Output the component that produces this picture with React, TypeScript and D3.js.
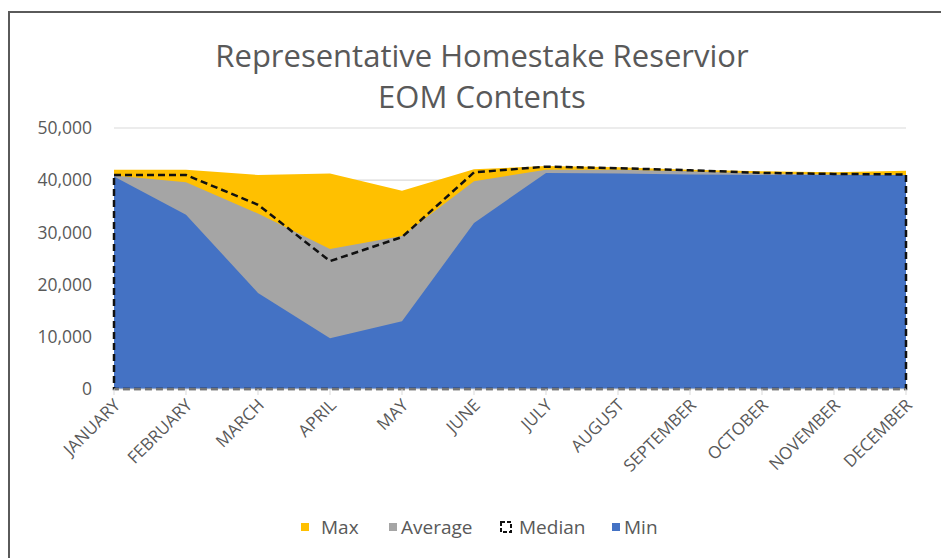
import { useRef, useEffect } from 'react';
import * as d3 from 'd3';

const months = ['JANUARY', 'FEBRUARY', 'MARCH', 'APRIL', 'MAY', 'JUNE', 'JULY', 'AUGUST', 'SEPTEMBER', 'OCTOBER', 'NOVEMBER', 'DECEMBER'];
const maxVals = [42000, 42000, 41000, 41300, 38000, 42100, 42700, 42500, 42000, 41700, 41500, 41800];
const avgVals = [40900, 39600, 33600, 26800, 29300, 39800, 42000, 42000, 41700, 41300, 41100, 41000];
const medianVals = [41000, 41000, 35300, 24500, 29100, 41500, 42600, 42300, 41900, 41400, 41200, 41100];
const minVals = [40700, 33400, 18400, 9700, 13000, 31800, 41400, 41300, 41100, 41000, 41000, 41000];
const yTicks = [0, 10000, 20000, 30000, 40000, 50000];

const App = () => {
  const svgRef = useRef<SVGSVGElement>(null);

  useEffect(() => {
    const w = 941;
    const h = 558;
    const svg = d3.select(svgRef.current)
      .attr('width', w)
      .attr('height', h)
      .style('background', '#fff');
    svg.selectAll('*').remove();
    const font = 'Open Sans, sans-serif';

    // frame (only top and left visible)
    svg.append('path')
      .attr('d', `M9,${h + 5} L9,12 L${w + 5},12`)
      .attr('fill', 'none')
      .attr('stroke', '#5a5a5a')
      .attr('stroke-width', 2);

    svg.append('text')
      .attr('x', 482).attr('y', 67)
      .attr('text-anchor', 'middle')
      .attr('font-family', font).attr('font-size', 31)
      .attr('fill', '#595959')
      .text('Representative Homestake Reservior');
    svg.append('text')
      .attr('x', 482).attr('y', 108)
      .attr('text-anchor', 'middle')
      .attr('font-family', font).attr('font-size', 31)
      .attr('fill', '#595959')
      .text('EOM Contents');

    const x = d3.scalePoint().domain(months).range([114, 906]);
    const y = d3.scaleLinear().domain([0, 50000]).range([389, 128]);

    const grid = svg.append('g');
    grid.selectAll('line')
      .data(yTicks.filter(d => d > 0))
      .join('line')
      .attr('x1', 114).attr('x2', 906)
      .attr('y1', d => y(d)).attr('y2', d => y(d))
      .attr('stroke', '#d9d9d9').attr('stroke-width', 1.2);

    svg.append('g')
      .selectAll('text')
      .data(yTicks)
      .join('text')
      .attr('x', 92).attr('y', d => y(d))
      .attr('dy', '0.35em')
      .attr('text-anchor', 'end')
      .attr('font-family', font).attr('font-size', 17.5)
      .attr('fill', '#595959')
      .text(d => d3.format(',')(d));

    const area = (vals: number[]) => d3.area<number>()
      .x((d, i) => x(months[i]) as number)
      .y0(y(0))
      .y1(d => y(d))(vals);

    svg.append('path').attr('d', area(maxVals)).attr('fill', '#ffc000');
    svg.append('path').attr('d', area(avgVals)).attr('fill', '#a5a5a5');
    svg.append('path').attr('d', area(minVals)).attr('fill', '#4472c4');
    svg.append('path')
      .attr('d', area(medianVals) + 'Z')
      .attr('fill', 'none')
      .attr('stroke', '#111')
      .attr('stroke-width', 2.5)
      .attr('stroke-dasharray', '7,4');

    // x axis line and ticks
    svg.append('line')
      .attr('x1', 114).attr('x2', 906)
      .attr('y1', y(0)).attr('y2', y(0))
      .attr('stroke', '#d9d9d9').attr('stroke-width', 1.2);
    svg.append('g')
      .selectAll('line')
      .data(months)
      .join('line')
      .attr('x1', d => x(d) as number).attr('x2', d => x(d) as number)
      .attr('y1', y(0)).attr('y2', y(0) + 6)
      .attr('stroke', '#d9d9d9');

    svg.append('g')
      .selectAll('text')
      .data(months)
      .join('text')
      .attr('transform', d => `translate(${(x(d) as number) + 3},${y(0) + 13}) rotate(-45)`)
      .attr('text-anchor', 'end')
      .attr('dy', '0.35em')
      .attr('font-family', font).attr('font-size', 17)
      .attr('fill', '#595959')
      .text(d => d);

    // legend
    const legend = [
      { name: 'Max', color: '#ffc000', x: 301, tx: 321 },
      { name: 'Average', color: '#a5a5a5', x: 389, tx: 401 },
      { name: 'Median', color: 'none', x: 500, tx: 519 },
      { name: 'Min', color: '#4472c4', x: 612, tx: 624 },
    ];
    const lg = svg.append('g');
    legend.forEach(l => {
      if (l.color === 'none') {
        lg.append('rect')
          .attr('x', l.x + 1).attr('y', 522)
          .attr('width', 10).attr('height', 10)
          .attr('fill', 'none').attr('stroke', '#111')
          .attr('stroke-width', 2).attr('stroke-dasharray', '4,2');
      } else {
        lg.append('rect')
          .attr('x', l.x).attr('y', 523)
          .attr('width', 8).attr('height', 8)
          .attr('fill', l.color);
      }
      lg.append('text')
        .attr('x', l.tx).attr('y', 527)
        .attr('dy', '0.35em')
        .attr('font-family', font).attr('font-size', 19)
        .attr('fill', '#595959')
        .text(l.name);
    });
  }, []);

  return <svg ref={svgRef} style={{ position: 'absolute', left: 0, top: 0 }}></svg>;
};

export default App;
